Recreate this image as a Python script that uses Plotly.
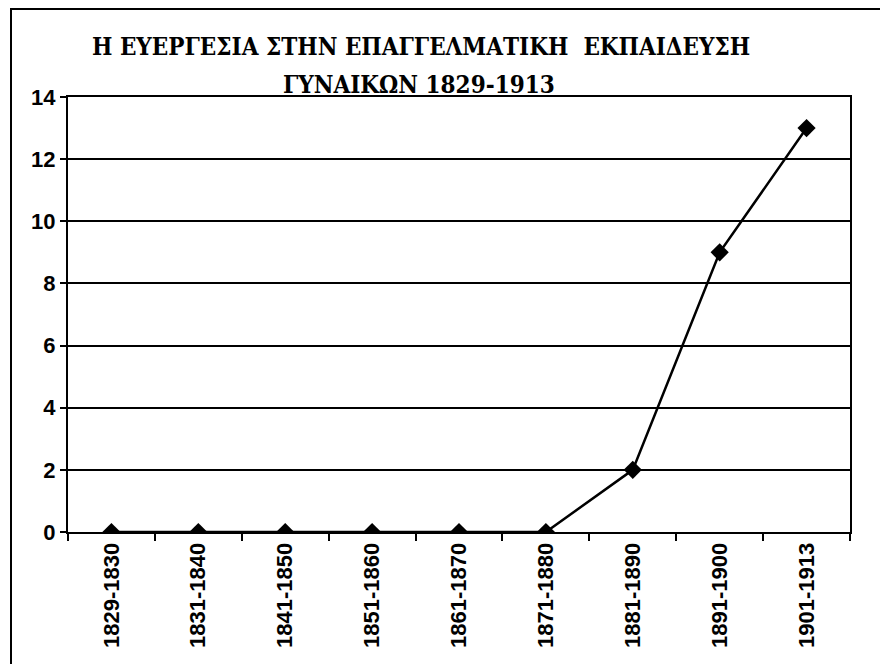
import plotly.graph_objects as go

periods = ["1829-1830", "1831-1840", "1841-1850", "1851-1860", "1861-1870",
           "1871-1880", "1881-1890", "1891-1900", "1901-1913"]
counts = [0, 0, 0, 0, 0, 0, 2, 9, 13]
y_ticks = [0, 2, 4, 6, 8, 10, 12, 14]
title_line1 = "Η ΕΥΕΡΓΕΣΙΑ ΣΤΗΝ ΕΠΑΓΓΕΛΜΑΤΙΚΗ  ΕΚΠΑΙΔΕΥΣΗ"
title_line2 = "ΓΥΝΑΙΚΩΝ 1829-1913"

# page has an 8px body margin; work in page pixel coordinates
OFF = 8
W, H = 872, 656
plot_left, plot_right, plot_top, plot_bottom = 68, 850, 97, 532
L = plot_left - OFF
T = plot_top - OFF
R = W - (plot_right - OFF)
B = H - (plot_bottom - OFF)
pw, ph = W - L - R, H - T - B

def px_x(x):
    return (x - plot_left) / pw

def px_y(y):
    return (plot_bottom - y) / ph

fig = go.Figure()
fig.add_trace(go.Scatter(
    x=periods, y=counts, mode="lines+markers",
    line=dict(color="black", width=2.5),
    marker=dict(symbol="diamond", size=14, color="black"),
    showlegend=False, hoverinfo="x+y"))

tick_font = dict(family="Liberation Sans", size=22, color="black", weight="bold")
title_font = dict(family="DejaVu Serif Condensed, DejaVu Serif", size=24,
                  color="black", weight="bold")

fig.update_layout(
    width=W, height=H,
    margin=dict(l=L, r=R, t=T, b=B, autoexpand=False),
    paper_bgcolor="white", plot_bgcolor="white",
    xaxis=dict(
        type="category", tickangle=-90, tickfont=tick_font,
        showline=True, linecolor="black", linewidth=2, mirror=True,
        ticks="outside", ticklen=7, tickwidth=1.5, tickcolor="black",
        tickson="boundaries", showgrid=False, zeroline=False,
        range=[-0.5, len(periods) - 0.5]),
    yaxis=dict(
        range=[0, 14], tickvals=y_ticks, tickfont=tick_font,
        showline=True, linecolor="black", linewidth=2, mirror=True,
        ticks="outside", ticklen=6, tickwidth=1.5, tickcolor="black",
        showgrid=True, gridcolor="black", gridwidth=1.5, zeroline=False),
    annotations=[
        dict(text=title_line1, x=px_x(421), y=px_y(47), xref="paper", yref="paper",
             xanchor="center", yanchor="middle", showarrow=False, font=title_font),
        dict(text=title_line2, x=px_x(419), y=px_y(84), xref="paper", yref="paper",
             xanchor="center", yanchor="middle", showarrow=False, font=title_font),
    ],
    shapes=[dict(type="rect", xref="paper", yref="paper",
                 x0=px_x(11), x1=px_x(900), y0=px_y(700), y1=px_y(9),
                 line=dict(color="black", width=2), fillcolor="rgba(0,0,0,0)",
                 layer="below")],
)

fig.write_html("out.html")
